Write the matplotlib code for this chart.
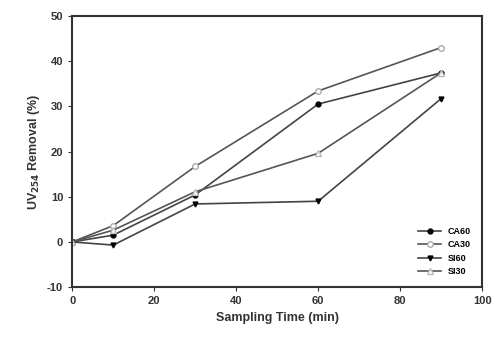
import matplotlib
matplotlib.use('Agg')
import matplotlib.pyplot as plt

time = [0, 10, 30, 60, 90]
ca60 = [0, 1.5, 10.4, 30.5, 37.4]
ca30 = [0, 3.6, 16.7, 33.4, 43.0]
si60 = [0, -0.7, 8.4, 9.0, 31.7]
si30 = [0, 2.6, 11.1, 19.6, 37.4]

plt.rcParams['font.family'] = ['Liberation Sans', 'DejaVu Sans']
plt.rcParams['font.weight'] = 'bold'
plt.rcParams['axes.unicode_minus'] = False

fig = plt.figure(figsize=(4.98, 3.39), dpi=100)
ax = fig.add_axes([0.145, 0.153, 0.823, 0.8])

ax.plot(time, ca60, '-o', color='#444444', lw=1.2, ms=3.5, mfc='black', mec='black', label='CA60')
ax.plot(time, ca30, '-o', color='#555555', lw=1.2, ms=4, mfc='white', mec='#aaaaaa', label='CA30')
ax.plot(time, si60, '-v', color='#444444', lw=1.2, ms=3.5, mfc='black', mec='black', label='SI60')
ax.plot(time, si30, '-^', color='#555555', lw=1.2, ms=4, mfc='white', mec='#bbbbbb', label='SI30')

ax.set_xlim(0, 100)
ax.set_ylim(-10, 50)
ax.set_xticks(range(0, 101, 20))
ax.set_yticks(range(-10, 51, 10))
ax.tick_params(direction='out', length=3, labelsize=8, colors='#333333')
for s in ax.spines.values():
    s.set_linewidth(1.5)
    s.set_color('#333333')

ax.set_xlabel('Sampling Time (min)', fontsize=9, fontweight='bold', color='#333333')
ax.set_ylabel('UV$_{\\mathbf{254}}$ Removal (%)', fontsize=9, fontweight='bold', color='#333333')

ax.legend(loc='lower right', frameon=False, fontsize=6.5, handlelength=2.5,
          labelspacing=0.5, borderaxespad=0.8)

fig.savefig('out.png', dpi=100)
